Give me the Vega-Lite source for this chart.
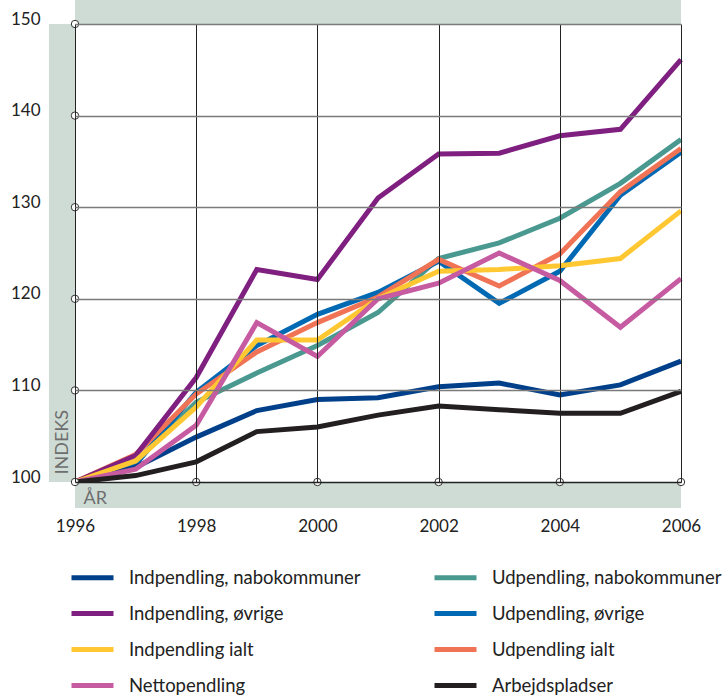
{
  "$schema": "https://vega.github.io/schema/vega-lite/v6.json",
  "width": 606,
  "height": 458,
  "autosize": "none",
  "padding": {"left": 75, "top": 24, "right": 45, "bottom": 215},
  "background": "white",
  "config": {"view": {"stroke": null}, "font": "Lato"},
  "layer": [
    {
      "data": {"values": [
        {"year": 1996, "series": "Udpendling, nabokommuner", "value": 100},
        {"year": 1997, "series": "Udpendling, nabokommuner", "value": 102.2},
        {"year": 1998, "series": "Udpendling, nabokommuner", "value": 108.7},
        {"year": 1999, "series": "Udpendling, nabokommuner", "value": 111.9},
        {"year": 2000, "series": "Udpendling, nabokommuner", "value": 114.9},
        {"year": 2001, "series": "Udpendling, nabokommuner", "value": 118.5},
        {"year": 2002, "series": "Udpendling, nabokommuner", "value": 124.4},
        {"year": 2003, "series": "Udpendling, nabokommuner", "value": 126.1},
        {"year": 2004, "series": "Udpendling, nabokommuner", "value": 128.8},
        {"year": 2005, "series": "Udpendling, nabokommuner", "value": 132.6},
        {"year": 2006, "series": "Udpendling, nabokommuner", "value": 137.4},
        {"year": 1996, "series": "Udpendling, øvrige", "value": 100},
        {"year": 1997, "series": "Udpendling, øvrige", "value": 101.9},
        {"year": 1998, "series": "Udpendling, øvrige", "value": 109.8},
        {"year": 1999, "series": "Udpendling, øvrige", "value": 114.9},
        {"year": 2000, "series": "Udpendling, øvrige", "value": 118.3},
        {"year": 2001, "series": "Udpendling, øvrige", "value": 120.7},
        {"year": 2002, "series": "Udpendling, øvrige", "value": 124.1},
        {"year": 2003, "series": "Udpendling, øvrige", "value": 119.5},
        {"year": 2004, "series": "Udpendling, øvrige", "value": 123.0},
        {"year": 2005, "series": "Udpendling, øvrige", "value": 131.3},
        {"year": 2006, "series": "Udpendling, øvrige", "value": 136.0},
        {"year": 1996, "series": "Udpendling ialt", "value": 100},
        {"year": 1997, "series": "Udpendling ialt", "value": 103.0},
        {"year": 1998, "series": "Udpendling ialt", "value": 109.6},
        {"year": 1999, "series": "Udpendling ialt", "value": 114.2},
        {"year": 2000, "series": "Udpendling ialt", "value": 117.4},
        {"year": 2001, "series": "Udpendling ialt", "value": 120.2},
        {"year": 2002, "series": "Udpendling ialt", "value": 124.3},
        {"year": 2003, "series": "Udpendling ialt", "value": 121.4},
        {"year": 2004, "series": "Udpendling ialt", "value": 124.9},
        {"year": 2005, "series": "Udpendling ialt", "value": 131.7},
        {"year": 2006, "series": "Udpendling ialt", "value": 136.4},
        {"year": 1996, "series": "Indpendling, nabokommuner", "value": 100},
        {"year": 1997, "series": "Indpendling, nabokommuner", "value": 101.6},
        {"year": 1998, "series": "Indpendling, nabokommuner", "value": 104.9},
        {"year": 1999, "series": "Indpendling, nabokommuner", "value": 107.8},
        {"year": 2000, "series": "Indpendling, nabokommuner", "value": 109.0},
        {"year": 2001, "series": "Indpendling, nabokommuner", "value": 109.2},
        {"year": 2002, "series": "Indpendling, nabokommuner", "value": 110.4},
        {"year": 2003, "series": "Indpendling, nabokommuner", "value": 110.8},
        {"year": 2004, "series": "Indpendling, nabokommuner", "value": 109.5},
        {"year": 2005, "series": "Indpendling, nabokommuner", "value": 110.6},
        {"year": 2006, "series": "Indpendling, nabokommuner", "value": 113.2},
        {"year": 1996, "series": "Indpendling, øvrige", "value": 100},
        {"year": 1997, "series": "Indpendling, øvrige", "value": 102.9},
        {"year": 1998, "series": "Indpendling, øvrige", "value": 111.4},
        {"year": 1999, "series": "Indpendling, øvrige", "value": 123.2},
        {"year": 2000, "series": "Indpendling, øvrige", "value": 122.1},
        {"year": 2001, "series": "Indpendling, øvrige", "value": 131.0},
        {"year": 2002, "series": "Indpendling, øvrige", "value": 135.8},
        {"year": 2003, "series": "Indpendling, øvrige", "value": 135.9},
        {"year": 2004, "series": "Indpendling, øvrige", "value": 137.8},
        {"year": 2005, "series": "Indpendling, øvrige", "value": 138.5},
        {"year": 2006, "series": "Indpendling, øvrige", "value": 146.1},
        {"year": 1996, "series": "Indpendling ialt", "value": 100},
        {"year": 1997, "series": "Indpendling ialt", "value": 102.3},
        {"year": 1998, "series": "Indpendling ialt", "value": 108.2},
        {"year": 1999, "series": "Indpendling ialt", "value": 115.5},
        {"year": 2000, "series": "Indpendling ialt", "value": 115.5},
        {"year": 2001, "series": "Indpendling ialt", "value": 120.0},
        {"year": 2002, "series": "Indpendling ialt", "value": 123.0},
        {"year": 2003, "series": "Indpendling ialt", "value": 123.2},
        {"year": 2004, "series": "Indpendling ialt", "value": 123.6},
        {"year": 2005, "series": "Indpendling ialt", "value": 124.4},
        {"year": 2006, "series": "Indpendling ialt", "value": 129.6},
        {"year": 1996, "series": "Nettopendling", "value": 100},
        {"year": 1997, "series": "Nettopendling", "value": 101.4},
        {"year": 1998, "series": "Nettopendling", "value": 106.2},
        {"year": 1999, "series": "Nettopendling", "value": 117.4},
        {"year": 2000, "series": "Nettopendling", "value": 113.7},
        {"year": 2001, "series": "Nettopendling", "value": 120.0},
        {"year": 2002, "series": "Nettopendling", "value": 121.7},
        {"year": 2003, "series": "Nettopendling", "value": 125.0},
        {"year": 2004, "series": "Nettopendling", "value": 122.0},
        {"year": 2005, "series": "Nettopendling", "value": 116.9},
        {"year": 2006, "series": "Nettopendling", "value": 122.2},
        {"year": 1996, "series": "Arbejdspladser", "value": 100},
        {"year": 1997, "series": "Arbejdspladser", "value": 100.7},
        {"year": 1998, "series": "Arbejdspladser", "value": 102.2},
        {"year": 1999, "series": "Arbejdspladser", "value": 105.5},
        {"year": 2000, "series": "Arbejdspladser", "value": 106.0},
        {"year": 2001, "series": "Arbejdspladser", "value": 107.3},
        {"year": 2002, "series": "Arbejdspladser", "value": 108.3},
        {"year": 2003, "series": "Arbejdspladser", "value": 107.9},
        {"year": 2004, "series": "Arbejdspladser", "value": 107.5},
        {"year": 2005, "series": "Arbejdspladser", "value": 107.5},
        {"year": 2006, "series": "Arbejdspladser", "value": 109.9}
      ]},
      "mark": {"type": "line", "strokeWidth": 5, "strokeJoin": "miter", "strokeCap": "butt"},
      "encoding": {
        "x": {
          "field": "year", "type": "quantitative",
          "scale": {"domain": [1996, 2006], "nice": false, "zero": false},
          "axis": {
            "title": "ÅR", "values": [1996, 1998, 2000, 2002, 2004, 2006], "format": "d",
            "labelFontSize": 17, "labelColor": "#222", "labelPadding": 36, "labelBaseline": "top",
            "labelFlush": false, "labelOverlap": false, "ticks": false, "domain": false,
            "grid": true, "gridColor": "#222", "gridWidth": 1, "zindex": 1,
            "titleX": 8, "titleY": 21, "titleAlign": "left", "titleBaseline": "alphabetic",
            "titleFontSize": 18, "titleFontWeight": "normal", "titleColor": "#6e6e6e"
          }
        },
        "y": {
          "field": "value", "type": "quantitative",
          "scale": {"domain": [100, 150], "nice": false, "zero": false},
          "axis": {
            "title": "INDEKS", "values": [100, 110, 120, 130, 140, 150],
            "labelFontSize": 17, "labelColor": "#222", "labelPadding": 35, "labelAlign": "right",
            "labelBaseline": "alphabetic", "labelFlush": false, "ticks": false, "domain": false,
            "grid": true, "gridColor": {"condition": {"test": "datum.value === 100", "value": "#222"}, "value": "#7a7a7a"},
            "gridWidth": 1.5, "zindex": 1,
            "titleAngle": 270, "titleX": -13, "titleY": 450, "titleAlign": "left", "titleBaseline": "middle",
            "titleFontSize": 18, "titleFontWeight": "normal", "titleColor": "#6e6e6e"
          }
        },
        "color": {
          "field": "series", "type": "nominal",
          "scale": {
            "domain": ["Indpendling, nabokommuner", "Indpendling, øvrige", "Indpendling ialt", "Nettopendling", "Udpendling, nabokommuner", "Udpendling, øvrige", "Udpendling ialt", "Arbejdspladser"],
            "range": ["#00408a", "#7f1f80", "#ffc832", "#c75ba1", "#4a9990", "#0069b3", "#f07356", "#231f20"]
          },
          "legend": {
            "title": null, "orient": "none", "legendX": -6, "legendY": 530, "columns": 2,
            "direction": "vertical", "padding": 0,
            "symbolType": "stroke", "symbolSize": 1764, "symbolStrokeWidth": 5,
            "labelFontSize": 18.5, "labelColor": "#222", "labelOffset": 13, "labelLimit": 400,
            "rowPadding": 2, "columnPadding": 63
          }
        }
      }
    },
    {
      "data": {"values": [{}]},
      "mark": {"type": "rect", "color": "#cfdcd5"},
      "encoding": {
        "x": {"datum": 1996, "type": "quantitative"},
        "x2": {"datum": 2006},
        "y": {"datum": 150, "type": "quantitative"},
        "y2": {"datum": 152.62}
      }
    },
    {
      "data": {"values": [{}]},
      "mark": {"type": "rect", "color": "#cfdcd5"},
      "encoding": {
        "x": {"datum": 1995.571, "type": "quantitative"},
        "x2": {"datum": 1996},
        "y": {"datum": 100, "type": "quantitative"},
        "y2": {"datum": 150}
      }
    },
    {
      "data": {"values": [{}]},
      "mark": {"type": "rect", "color": "#cfdcd5"},
      "encoding": {
        "x": {"datum": 1996, "type": "quantitative"},
        "x2": {"datum": 2006},
        "y": {"datum": 97.16, "type": "quantitative"},
        "y2": {"datum": 100}
      }
    },
    {
      "data": {"values": [
        {"year": 1996, "value": 100}, {"year": 1996, "value": 110}, {"year": 1996, "value": 120},
        {"year": 1996, "value": 130}, {"year": 1996, "value": 140}, {"year": 1996, "value": 150},
        {"year": 1998, "value": 100}, {"year": 2000, "value": 100}, {"year": 2002, "value": 100},
        {"year": 2004, "value": 100}, {"year": 2006, "value": 100}
      ]},
      "mark": {"type": "point", "shape": "circle", "filled": true, "fill": "white", "stroke": "#333", "strokeWidth": 1, "size": 55, "opacity": 1},
      "encoding": {
        "x": {"field": "year", "type": "quantitative"},
        "y": {"field": "value", "type": "quantitative"}
      }
    }
  ]
}
